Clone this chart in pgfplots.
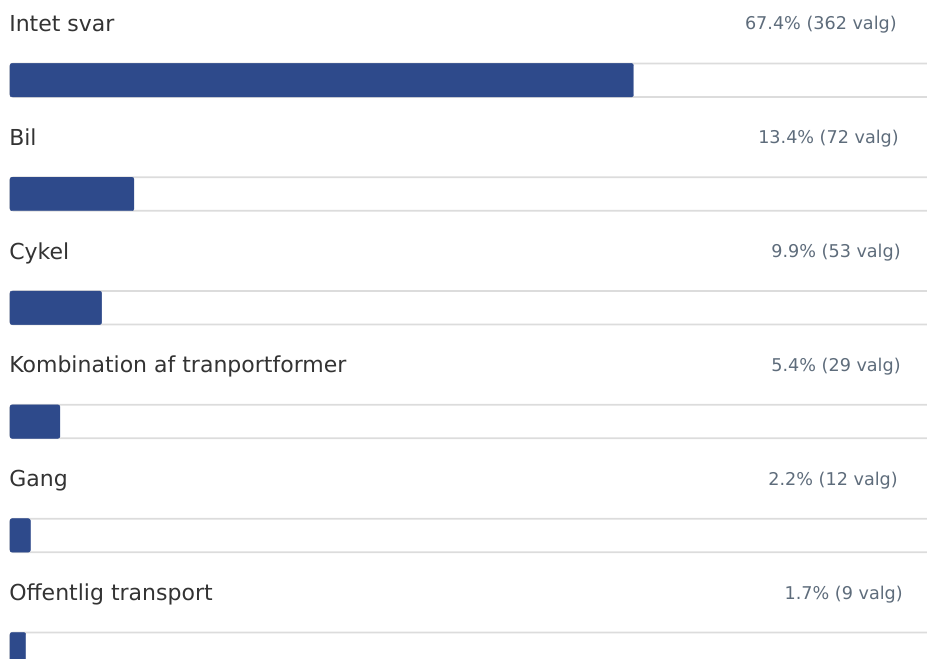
\documentclass[border=0pt]{standalone}
\usepackage{fontspec}
\setmainfont{DejaVu Sans}
\usepackage{pgfplots}
\usepackage{pgfplotstable}
\pgfplotsset{compat=1.18}
\definecolor{barblue}{HTML}{2E4A8B}
\definecolor{labgray}{HTML}{333333}
\definecolor{pctgray}{HTML}{5E6C7B}
\definecolor{trackgray}{HTML}{DCDCDC}
% y = vertical centre of each bar (in px from top), pct = share
\pgfplotstableread{
y      pct   n
80.2   67.4  362
194.0  13.4  72
307.8  9.9   53
421.6  5.4   29
535.4  2.2   12
649.2  1.7   9
}\datatable
\begin{document}
\begin{tikzpicture}[x=1pt,y=1pt]
\begin{axis}[
  name=main,
  scale only axis,
  width=695.25pt, height=494.25pt,
  xmin=-1.081, xmax=99.135,
  ymin=0, ymax=659, y dir=reverse,
  hide axis,
  clip=true,
  xbar, bar shift=0pt, bar width=33.5,
]
% tracks (extend beyond the right edge)
\addplot[fill=white, draw=trackgray, line width=1.3pt, rounded corners=2.5pt]
  table[x expr=120, y=y] {\datatable};
% bars
\addplot[fill=barblue, draw=barblue, line width=0.3pt, rounded corners=1.5pt]
  table[x=pct, y=y] {\datatable};
% labels
\begin{scope}[every node/.style={anchor=base west, inner sep=0pt, text=labgray, font=\fontsize{16.5}{20}\selectfont}]
\node at (axis cs:-0.108,31.5) {Intet svar};
\node at (axis cs:-0.108,145.3) {Bil};
\node at (axis cs:-0.108,259.1) {Cykel};
\node at (axis cs:-0.108,372.9) {Kombination af tranportformer};
\node at (axis cs:-0.108,486.7) {Gang};
\node at (axis cs:-0.108,600.5) {Offentlig transport};
\end{scope}
\begin{scope}[every node/.style={anchor=base east, inner sep=0pt, text=pctgray, font=\fontsize{13.2}{16}\selectfont}]
\node at (axis cs:95.89,30) {67.4\% (362 valg)};
\node at (axis cs:96.11,143.8) {13.4\% (72 valg)};
\node at (axis cs:96.32,257.6) {9.9\% (53 valg)};
\node at (axis cs:96.32,371.4) {5.4\% (29 valg)};
\node at (axis cs:96.0,485.2) {2.2\% (12 valg)};
\node at (axis cs:96.54,599) {1.7\% (9 valg)};
\end{scope}
\end{axis}
\pgfresetboundingbox
\path (main.south west) rectangle (main.north east);
\end{tikzpicture}
\end{document}
